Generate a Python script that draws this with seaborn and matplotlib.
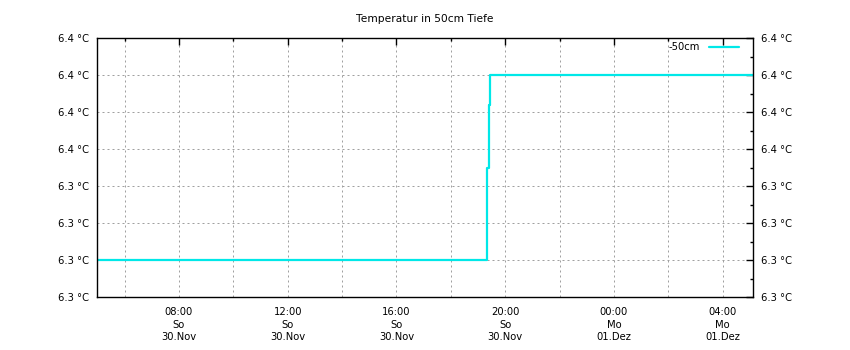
import matplotlib
matplotlib.use("Agg")
import matplotlib.pyplot as plt
import matplotlib.dates as mdates
import matplotlib.ticker as mticker
import seaborn as sns
import pandas as pd

title = "Temperatur in 50cm Tiefe"
series_name = "-50cm"
times = ["2025-11-30 05:00", "2025-11-30 19:19", "2025-11-30 19:21",
         "2025-11-30 19:24", "2025-11-30 19:26", "2025-12-01 05:07"]
values = [6.30, 6.317, 6.350, 6.384, 6.40, 6.40]
y_ticks = [6.28, 6.30, 6.32, 6.34, 6.36, 6.38, 6.40, 6.42]
weekday_de = {0: "Mo", 1: "Di", 2: "Mi", 3: "Do", 4: "Fr", 5: "Sa", 6: "So"}
month_de = {11: "Nov", 12: "Dez"}

df = pd.DataFrame({"time": pd.to_datetime(times), "temp": values})

sns.set_theme(style="white")
plt.rcParams["font.family"] = ["DejaVu Sans"]
plt.rcParams["text.color"] = "black"
plt.rcParams["xtick.color"] = "black"
plt.rcParams["ytick.color"] = "black"

fig = plt.figure(figsize=(8.5, 3.5), dpi=100)
ax = fig.add_axes([0.1145, 0.1514, 0.7714, 0.7392])

color = "#00e8e8"
sns.lineplot(data=df, x="time", y="temp", ax=ax, color=color, linewidth=1.6,
             drawstyle="steps-post", label=series_name)

ax.set_xlim(pd.Timestamp("2025-11-30 05:00"), pd.Timestamp("2025-12-01 05:07"))
ax.set_ylim(y_ticks[0], y_ticks[-1])
ax.set_yticks(y_ticks)
ax.yaxis.set_minor_locator(mticker.MultipleLocator(0.01))
ax.yaxis.set_major_formatter(mticker.FuncFormatter(lambda v, p: f"{v:.1f} °C"))

ax.xaxis.set_major_locator(mdates.HourLocator(byhour=range(0, 24, 4)))
ax.xaxis.set_minor_locator(mdates.HourLocator(byhour=range(2, 24, 4)))

def fmt_x(v, pos):
    d = mdates.num2date(v)
    return f"{d:%H:%M}\n{weekday_de[d.weekday()]}\n{d:%d}.{month_de[d.month]}"
ax.xaxis.set_major_formatter(mticker.FuncFormatter(fmt_x))

ax.set_xlabel("")
ax.set_ylabel("")
ax.set_title(title, fontsize=7.7, pad=12, color="black")

for s in ax.spines.values():
    s.set_color("black")
    s.set_linewidth(1.0)

ax.tick_params(axis="both", which="major", direction="in", length=5, width=1,
               colors="black", labelsize=7.2, top=True, right=True)
ax.tick_params(axis="both", which="minor", direction="in", length=2.5, width=1,
               colors="black", top=True, right=True)
ax.tick_params(axis="y", which="major", labelright=True, pad=6)
ax.tick_params(axis="x", which="major", pad=7)
for lab in ax.get_xticklabels():
    lab.set_linespacing(1.35)

ax.grid(True, which="major", axis="both", color="#a0a0a0", linestyle=(0, (2, 3)), linewidth=0.72)
ax.grid(True, which="minor", axis="x", color="#a0a0a0", linestyle=(0, (2, 3)), linewidth=0.72)
ax.set_axisbelow(True)

leg = ax.legend(loc="upper right", bbox_to_anchor=(0.989, 1.012), frameon=False,
                fontsize=7.2, markerfirst=False, handlelength=3.0,
                borderaxespad=0.3, handletextpad=0.9)
for t in leg.get_texts():
    t.set_color("black")

fig.savefig("out.png", dpi=100)
